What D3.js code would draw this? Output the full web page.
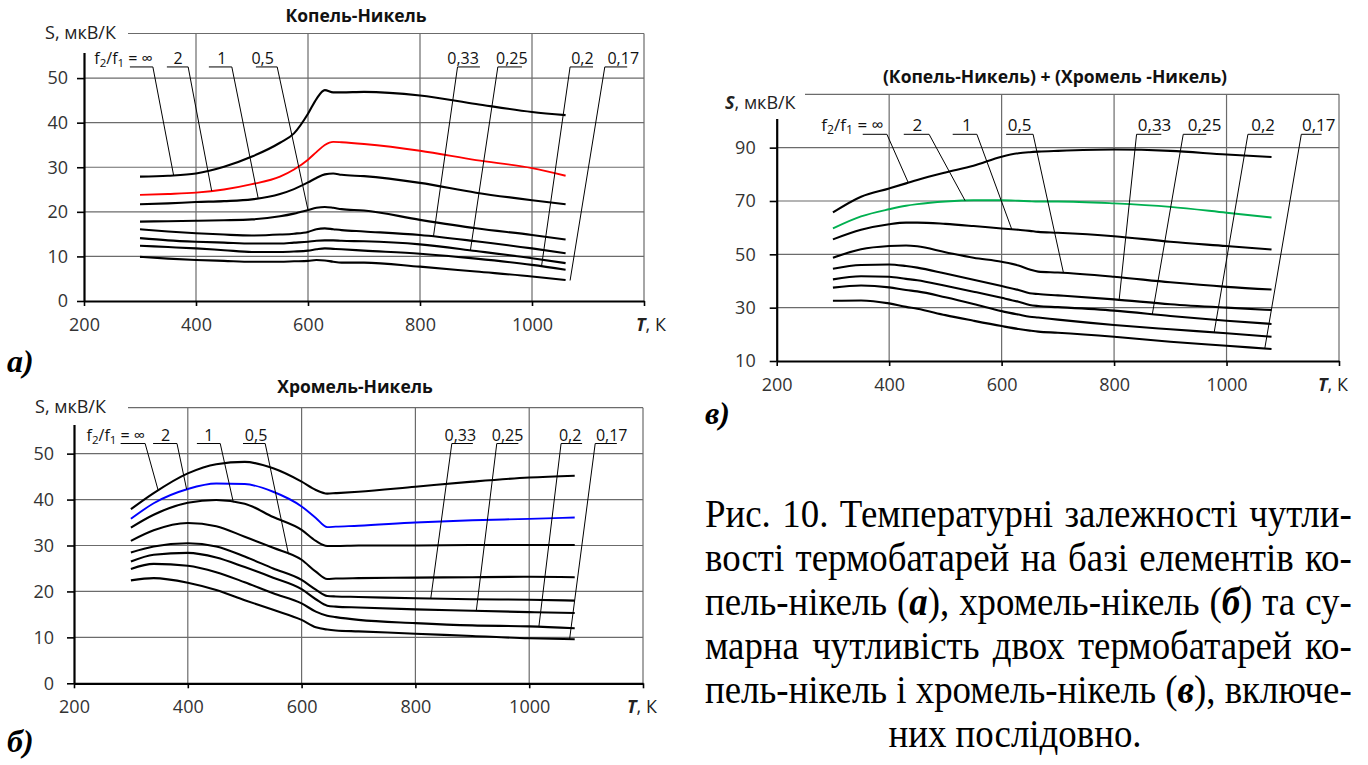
<!DOCTYPE html>
<html>
<head>
<meta charset="utf-8">
<script src="https://cdn.jsdelivr.net/npm/d3@7"></script>
<style>
  body { margin: 0; background: #fff; }
  svg { display: block; }
</style>
</head>
<body>
<svg id="fig" width="1368" height="765"></svg>
<script>
// ratio f2/f1 for each curve, top to bottom
const ratios = ['∞', '2', '1', '0,5', '0,33', '0,25', '0,2', '0,17'];

// а) Копель-Никель
const tempA = [300, 350, 400, 450, 500, 550, 575, 600, 615, 630, 645, 660, 700, 800, 900, 1000, 1060];
const seebeckA = [
  [27.9, 28.1, 28.6, 30.1, 32.4, 35.5, 37.6, 42.0, 45.3, 47.3, 46.8, 46.8, 46.9, 46.1, 44.2, 42.4, 41.7],
  [23.8, 24.0, 24.3, 25.0, 26.2, 27.9, 29.5, 31.7, 33.4, 35.0, 35.7, 35.6, 35.2, 33.7, 31.6, 29.8, 28.1],
  [21.7, 21.9, 22.2, 22.4, 22.8, 24.0, 25.1, 26.6, 27.6, 28.4, 28.6, 28.3, 28.0, 26.5, 24.3, 22.6, 21.7],
  [17.8, 17.9, 18.0, 18.1, 18.3, 19.0, 19.6, 20.4, 20.9, 21.1, 20.9, 20.6, 20.3, 18.2, 16.3, 14.8, 13.8],
  [16.1, 15.6, 15.2, 14.9, 14.7, 14.9, 15.1, 15.5, 16.1, 16.3, 16.1, 15.9, 15.6, 14.8, 13.4, 11.8, 10.7],
  [14.1, 13.6, 13.3, 13.1, 12.9, 12.9, 13.1, 13.3, 13.5, 13.6, 13.6, 13.5, 13.4, 12.7, 11.2, 9.6, 8.5],
  [12.4, 12.1, 11.8, 11.4, 11.0, 11.0, 11.1, 11.3, 11.6, 11.8, 11.7, 11.6, 11.3, 10.6, 9.5, 8.1, 7.0],
  [9.9, 9.5, 9.2, 9.0, 8.8, 8.8, 8.9, 9.0, 9.2, 9.1, 8.8, 8.6, 8.6, 7.7, 6.6, 5.5, 4.7]
];

// б) Хромель-Никель
const tempB = [300, 340, 400, 450, 500, 550, 600, 625, 645, 660, 700, 800, 900, 1000, 1080];
const seebeckB = [
  [37.9, 41.4, 45.7, 47.7, 48.2, 46.8, 43.9, 42.1, 41.3, 41.4, 41.7, 42.8, 43.9, 44.8, 45.2],
  [35.8, 39.2, 42.3, 43.5, 43.4, 41.7, 38.5, 36.0, 34.0, 34.1, 34.3, 35.0, 35.5, 35.8, 36.1],
  [33.9, 36.7, 39.3, 39.9, 39.1, 36.2, 33.4, 31.0, 29.9, 29.9, 30.0, 30.0, 30.1, 30.1, 30.1],
  [31.0, 33.3, 34.9, 34.2, 31.9, 29.5, 26.9, 24.3, 22.7, 22.8, 22.9, 23.0, 23.1, 23.2, 23.1],
  [28.5, 29.8, 30.5, 29.8, 27.6, 25.0, 22.5, 20.4, 19.0, 18.9, 18.8, 18.5, 18.3, 18.2, 18.0],
  [26.5, 28.0, 28.4, 27.4, 25.3, 23.0, 20.5, 18.3, 16.9, 16.7, 16.5, 16.1, 15.8, 15.5, 15.3],
  [24.9, 26.0, 25.6, 24.2, 22.0, 19.6, 17.4, 15.6, 14.7, 14.4, 13.8, 13.1, 12.6, 12.4, 12.0],
  [22.4, 22.9, 21.9, 20.3, 18.1, 16.0, 13.8, 12.2, 11.7, 11.5, 11.3, 10.8, 10.3, 9.8, 9.6]
];

// в) сума обох термобатарей
const tempC = [300, 350, 400, 430, 450, 500, 550, 600, 630, 650, 665, 700, 800, 900, 1000, 1080];
const seebeckC = [
  [65.7, 71.6, 74.7, 76.6, 77.9, 80.7, 83.2, 86.6, 87.9, 88.3, 88.5, 88.8, 89.3, 88.8, 87.4, 86.5],
  [59.7, 64.2, 66.9, 68.2, 68.8, 69.8, 70.3, 70.3, 70.1, 69.9, 69.8, 69.8, 69.1, 67.8, 65.6, 63.8],
  [55.6, 59.2, 61.3, 61.9, 61.9, 61.4, 60.6, 59.7, 59.2, 58.8, 58.4, 58.1, 56.8, 54.7, 53.1, 51.8],
  [48.7, 51.9, 53.1, 53.3, 53.0, 50.8, 48.7, 47.2, 45.8, 44.3, 43.5, 43.2, 41.6, 39.5, 37.8, 36.8],
  [44.6, 46.0, 46.2, 45.6, 45.0, 42.8, 40.5, 38.1, 36.6, 35.4, 35.1, 34.6, 33.1, 31.3, 30.0, 29.1],
  [40.6, 41.8, 41.6, 40.8, 40.3, 38.2, 36.0, 33.7, 32.2, 31.0, 30.6, 30.2, 28.9, 26.9, 25.1, 23.9],
  [37.5, 38.3, 37.6, 36.6, 36.1, 33.9, 31.4, 28.7, 27.4, 26.6, 26.3, 25.5, 23.5, 21.9, 20.4, 19.1],
  [32.6, 32.7, 31.6, 30.3, 29.6, 27.2, 25.1, 23.1, 22.0, 21.4, 21.0, 20.6, 19.1, 17.2, 15.7, 14.5]
];

const xTicks = [200, 400, 600, 800, 1000];
const yTicksAB = [0, 10, 20, 30, 40, 50];
const yTicksC = [10, 30, 50, 70, 90];

const captionLines = [
  [['Рис. 10. Температурні залежності чутли-']],
  [['вості термобатарей на базі елементів ко-']],
  [['пель-нікель ('], ['а', true], ['), хромель-нікель ('], ['б', true], [') та су-']],
  [['марна чутливість двох термобатарей ко-']],
  [['пель-нікель і хромель-нікель ('], ['в', true], ['), включе-']],
  [['них послідовно.']]
];

const SANS = "'Open Sans', 'DejaVu Sans', sans-serif";
const SERIF = "'Liberation Serif', 'DejaVu Serif', serif";
const GRID = '#6b6b6b';

// leader labels: [text T, underline from T, underline to T, curve T]
const panels = [
  {
    title: 'Копель-Никель', tag: 'а)', tagAt: [7, 372],
    temps: tempA, values: seebeckA, accent: '#ff0000',
    xRange: [84, 644], yRange: [301, 33.5], yDomain: [0, 60], yTicks: yTicksAB, tickPad: 9,
    titleAt: [356, 22], yLabelAt: [45, 39], mask: [38, 20, 90, 33], sBold: false, tLabelX: 636,
    labelS: 52.5, labelSize: 16,
    labels: [[323, 282, 323, 360], [368, 348, 386, 428], [446, 423, 464, 511], [519, 507, 545, 600],
             [877, 867, 907, 824], [964, 939, 982, 890], [1090, 1068, 1109, 1017], [1163, 1130, 1170, 1068]]
  },
  {
    title: 'Хромель-Никель', tag: 'б)', tagAt: [7, 752],
    temps: tempB, values: seebeckB, accent: '#0000ff',
    xRange: [74, 643], yRange: [683.3, 407.7], yDomain: [0, 60], yTicks: yTicksAB, tickPad: 13,
    titleAt: [355, 393], yLabelAt: [35, 413], mask: [28, 394, 100, 31], sBold: false, tLabelX: 627,
    labelS: 52.2, labelSize: 16,
    labels: [[325, 282, 325, 348], [361, 339, 381, 398], [437, 416, 457, 480], [520, 497, 536, 577],
             [879, 864, 901, 827], [962, 943, 981, 907], [1072, 1056, 1093, 1017], [1145, 1116, 1154, 1071]]
  },
  {
    title: '(Копель-Никель) + (Хромель -Никель)', tag: 'в)', tagAt: [705, 424],
    temps: tempC, values: seebeckC, accent: '#00b050',
    xRange: [776.7, 1339], yRange: [361, 94.3], yDomain: [10, 110], yTicks: yTicksC, tickPad: 14,
    titleAt: [1055, 83], yLabelAt: [725, 109], mask: [718, 85, 87, 34], sBold: true, tLabelX: 1318,
    labelS: 95, labelSize: 17,
    labels: [[390, 353, 396, 434], [450, 426, 471, 535], [538, 513, 556, 618], [632, 608, 656, 710],
             [872, 840, 884, 809], [961, 923, 964, 868], [1065, 1038, 1083, 978], [1164, 1133, 1169, 1068]]
  }
];

const svg = d3.select('#fig');

function valueAt(temps, vals, t) {
  const i = Math.max(1, Math.min(temps.length - 1, d3.bisectLeft(temps, t)));
  const k = (t - temps[i - 1]) / (temps[i] - temps[i - 1]);
  return vals[i - 1] + k * (vals[i] - vals[i - 1]);
}

function drawPanel(p) {
  const x = d3.scaleLinear().domain([200, 1200]).range(p.xRange);
  const y = d3.scaleLinear().domain(p.yDomain).range(p.yRange);
  const g = svg.append('g');

  // grid, top and right border
  const yGrid = p.yTicks.slice(1).concat(p.yDomain[1]);
  g.append('g').selectAll('line').data(yGrid).join('line')
    .attr('x1', p.xRange[0]).attr('x2', p.xRange[1])
    .attr('y1', d => y(d)).attr('y2', d => y(d))
    .attr('stroke', GRID).attr('stroke-width', 1.2);
  g.append('g').selectAll('line').data([400, 600, 800, 1000, 1200]).join('line')
    .attr('x1', d => x(d)).attr('x2', d => x(d))
    .attr('y1', p.yRange[0]).attr('y2', p.yRange[1])
    .attr('stroke', GRID).attr('stroke-width', 1.2);

  // axes
  const ax = g.append('g').attr('transform', `translate(0,${p.yRange[0]})`)
    .call(d3.axisBottom(x).tickValues(xTicks.concat(1200))
      .tickFormat(d => d === 1200 ? '' : String(d))
      .tickSize(5).tickSizeOuter(0).tickPadding(12));
  const ay = g.append('g').attr('transform', `translate(${p.xRange[0]},0)`)
    .call(d3.axisLeft(y).tickValues(p.yTicks).tickFormat(d => String(d))
      .tickSize(7).tickSizeOuter(0).tickPadding(p.tickPad));
  [ax, ay].forEach(a => {
    a.select('.domain').attr('stroke', '#000').attr('stroke-width', 2.2);
    a.selectAll('.tick line').attr('stroke', '#000').attr('stroke-width', 1.6);
    a.selectAll('text').attr('font-family', SANS).attr('font-size', 18).attr('fill', '#333');
  });

  // curves
  const line = d3.line()
    .x((d, i) => x(p.temps[i]))
    .y(d => y(d))
    .curve(d3.curveMonotoneX);
  g.append('g').selectAll('path').data(p.values).join('path')
    .attr('d', line)
    .attr('fill', 'none')
    .attr('stroke', (d, i) => i === 1 ? p.accent : '#000')
    .attr('stroke-width', (d, i) => i === 1 ? 1.9 : 2.1)
    .attr('stroke-linejoin', 'round');

  // y label on a white box over the top corner
  g.append('rect')
    .attr('x', p.mask[0]).attr('y', p.mask[1]).attr('width', p.mask[2]).attr('height', p.mask[3])
    .attr('fill', '#fff');
  const yl = g.append('text')
    .attr('x', p.yLabelAt[0]).attr('y', p.yLabelAt[1])
    .attr('font-family', SANS).attr('font-size', 18).attr('fill', '#222');
  yl.append('tspan').text('S')
    .attr('font-weight', p.sBold ? 'bold' : null).attr('font-style', p.sBold ? 'italic' : null);
  yl.append('tspan').text(', мкВ/К');

  // x label
  const xl = g.append('text')
    .attr('x', p.tLabelX).attr('y', p.yRange[0] + 30)
    .attr('font-family', SANS).attr('font-size', 18).attr('fill', '#222');
  xl.append('tspan').text('T').attr('font-weight', 'bold').attr('font-style', 'italic');
  xl.append('tspan').text(', К');

  // title
  g.append('text')
    .attr('x', p.titleAt[0]).attr('y', p.titleAt[1])
    .attr('text-anchor', 'middle')
    .attr('font-family', SANS).attr('font-size', 17.5).attr('font-weight', 'bold')
    .attr('fill', '#111')
    .text(p.title);

  // ratio labels with underline and leader
  const uy = y(p.labelS);
  p.labels.forEach((l, i) => {
    const [tt, u0, u1, target] = l;
    const from = target > u1 ? u1 : u0;
    const ty = y(valueAt(p.temps, p.values[i], target));
    g.append('line')
      .attr('x1', x(u0)).attr('x2', x(u1)).attr('y1', uy).attr('y2', uy)
      .attr('stroke', '#000').attr('stroke-width', 1);
    g.append('line')
      .attr('x1', x(from)).attr('y1', uy).attr('x2', x(target)).attr('y2', ty)
      .attr('stroke', '#000').attr('stroke-width', 1);
    const t = g.append('text')
      .attr('x', x(tt)).attr('y', uy - 3)
      .attr('font-family', SANS).attr('font-size', p.labelSize).attr('fill', '#111');
    if (i === 0) {
      t.attr('text-anchor', 'end');
      t.append('tspan').text('f');
      t.append('tspan').text('2').attr('font-size', p.labelSize * 0.72).attr('dy', 3);
      t.append('tspan').text('/f').attr('dy', -3);
      t.append('tspan').text('1').attr('font-size', p.labelSize * 0.72).attr('dy', 3);
      t.append('tspan').text(' = ' + ratios[i]).attr('dy', -3);
    } else {
      t.attr('text-anchor', 'middle').text(ratios[i]);
    }
  });

  // panel tag а) б) в)
  svg.append('text')
    .attr('x', p.tagAt[0]).attr('y', p.tagAt[1])
    .attr('font-family', SERIF).attr('font-size', 32)
    .attr('font-weight', 'bold').attr('font-style', 'italic')
    .text(p.tag);
}

panels.forEach(drawPanel);

// caption: narrow serif, justified like the source page
const capLeft = 705, capRight = 1352, lastCenter = 1015;
const capTexts = captionLines.map(segs => {
  const t = svg.append('text')
    .attr('x', 0).attr('y', 0)
    .attr('font-family', SERIF).attr('font-size', 40).attr('fill', '#000');
  segs.forEach(s => {
    t.append('tspan').text(s[0])
      .attr('font-weight', s[1] ? 'bold' : null)
      .attr('font-style', s[1] ? 'italic' : null);
  });
  return t;
});
// squeeze glyphs so the longest line fits the column, then stretch the spaces
const colW = capRight - capLeft;
const sx = Math.min(1, d3.min(capTexts.slice(0, -1), t => colW / t.node().getComputedTextLength()));
capTexts.forEach((t, i) => {
  const yy = 527 + i * 44;
  if (i < capTexts.length - 1) {
    const w = t.node().getComputedTextLength();
    const spaces = captionLines[i].map(s => s[0]).join('').split(' ').length - 1;
    t.attr('word-spacing', (colW / sx - w) / spaces)
      .attr('transform', `translate(${capLeft},${yy}) scale(${sx},1)`);
  } else {
    t.attr('text-anchor', 'middle')
      .attr('transform', `translate(${lastCenter},${yy}) scale(${sx},1)`);
  }
});
</script>
</body>
</html>
